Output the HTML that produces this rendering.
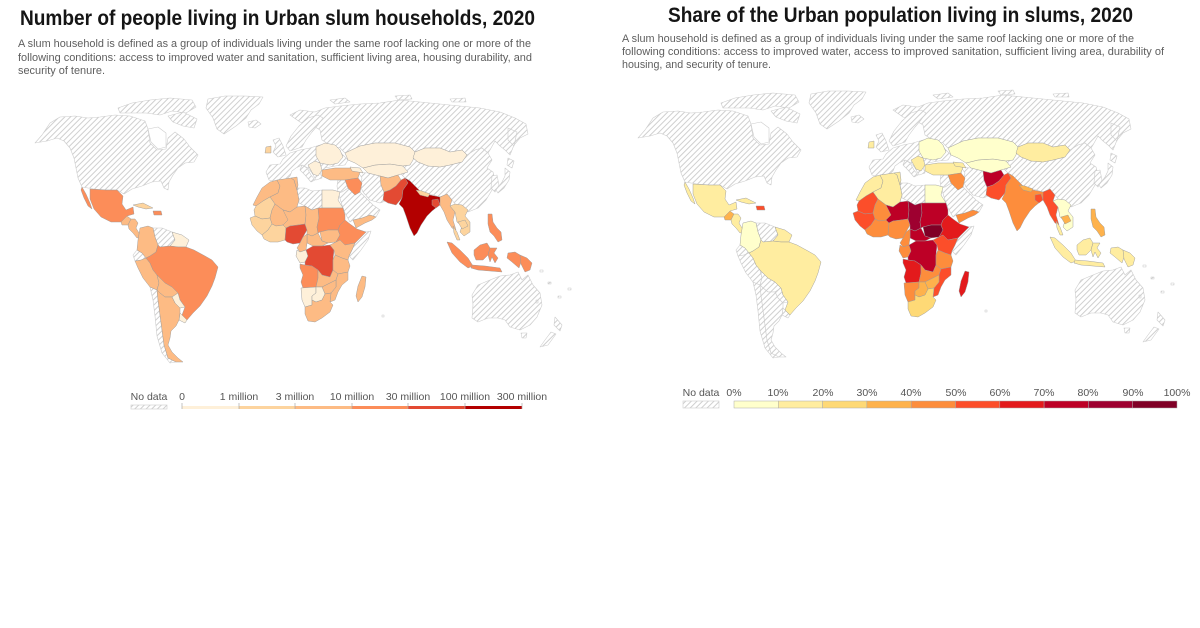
<!DOCTYPE html>
<html><head><meta charset="utf-8"><style>
html,body{margin:0;padding:0;background:#fff;}
svg{display:block;}
.h{fill:url(#hp);stroke:#cdcdcd;stroke-width:.6}
.w{fill:#fff;stroke:#cdcdcd;stroke-width:.6}
text{font-family:"Liberation Sans",sans-serif;}
</style></head><body>
<svg width="1200" height="628" viewBox="0 0 1200 628" xmlns="http://www.w3.org/2000/svg">
<defs>
<pattern id="hp" patternUnits="userSpaceOnUse" width="4" height="4" patternTransform="rotate(45)"><rect width="4" height="4" fill="#fff"/><line x1="0.5" y1="0" x2="0.5" y2="4" stroke="#cfcfcf" stroke-width="1"/></pattern>
<path id="na" d="M35,143 L42,135 L50,123 L60,117 L75,116 L88,118 L100,117 L115,115 L130,116 L145,121 L148,129 L150,143 L157,150 L166,149 L168,138 L175,132 L184,139 L190,147 L198,155 L194,162 L185,163 L178,168 L173,175 L169,182 L168,190 L164,188 L161,181 L152,182 L142,186 L132,189 L124,194 L117,190 L106,190 L94,189 L82,187 L78,178 L76,168 L74,158 L70,148 L64,141 L57,138 L47,141 Z"/>
<path id="hud" d="M148,129 L158,127 L166,133 L166,147 L158,149 L151,142 Z"/>
<path id="can1" d="M118,108 L132,103 L150,100 L170,98 L192,100 L196,107 L186,113 L172,111 L160,115 L146,113 L132,113 L120,113 Z"/>
<path id="can2" d="M168,116 L183,112 L197,119 L194,128 L183,126 L173,122 Z"/>
<path id="grl" d="M208,99 L225,96 L245,96 L263,97 L259,104 L251,110 L246,118 L236,126 L224,134 L217,129 L213,118 L206,108 Z"/>
<path id="isl" d="M248,122 L256,120 L261,124 L255,128 L249,127 Z"/>
<path id="mex" d="M90,189 L106,190 L117,190 L123,196 L122,204 L126,210 L133,207 L134,214 L127,216 L121,222 L111,222 L101,217 L94,209 L90,199 Z M82,187 L86,194 L90,203 L92,209 L88,206 L84,198 L81,190 Z"/>
<path id="gtm" d="M121,222 L127,216 L131,219 L128,225 L122,225 Z"/>
<path id="cam" d="M128,225 L131,219 L135,219 L138,223 L136,228 L139,233 L141,237 L137,238 L133,233 L129,229 Z"/>
<path id="cub" d="M133,205 L143,203 L153,208 L146,209 L138,207 Z"/>
<path id="hti" d="M153,211 L161,211 L162,215 L154,215 Z"/>
<path id="col" d="M140,228 L148,226 L153,228 L155,237 L158,245 L156,252 L150,256 L146,258 L142,253 L137,250 L138,240 Z"/>
<path id="ven" d="M153,228 L162,228 L172,232 L175,240 L170,246 L160,247 L158,245 L155,237 Z"/>
<path id="guy" d="M172,232 L182,235 L189,240 L186,247 L178,247 L170,246 L175,240 Z"/>
<path id="ecu" d="M137,250 L142,253 L146,258 L141,260 L135,261 L133,255 Z"/>
<path id="per" d="M135,261 L141,260 L146,258 L150,263 L153,270 L157,275 L159,283 L157,290 L150,287 L143,278 L138,268 Z"/>
<path id="bra" d="M146,258 L150,256 L156,252 L158,245 L160,247 L170,246 L178,247 L186,247 L194,250 L205,256 L212,260 L218,267 L215,278 L212,286 L207,296 L200,306 L193,313 L187,320 L182,315 L185,307 L180,300 L178,293 L172,287 L165,283 L160,278 L157,275 L153,270 L150,263 Z"/>
<path id="bol" d="M157,275 L160,278 L165,283 L172,287 L178,293 L172,297 L165,297 L160,293 L157,290 L159,283 Z"/>
<path id="pry" d="M172,297 L178,293 L180,300 L185,307 L180,308 L175,303 Z"/>
<path id="ury" d="M180,313 L182,315 L187,320 L185,323 L179,320 Z"/>
<path id="chl" d="M150,287 L157,290 L158,300 L160,315 L162,330 L164,345 L168,358 L176,362 L170,363 L162,353 L157,336 L155,316 L153,300 Z"/>
<path id="arg" d="M157,290 L160,293 L165,297 L172,297 L175,303 L180,308 L180,313 L179,320 L176,326 L171,331 L170,338 L168,345 L172,352 L178,358 L183,362 L176,362 L168,358 L164,345 L162,330 L160,315 L158,300 Z"/>
<path id="mar" d="M262,188 L270,182 L277,180 L280,186 L278,193 L270,197 L263,201 L256,206 L253,205 L257,197 Z"/>
<path id="dza" d="M277,180 L291,178 L294,180 L297,190 L299,200 L297,207 L290,212 L283,210 L275,204 L270,197 L278,193 L280,186 Z"/>
<path id="tun" d="M291,178 L297,177 L298,185 L297,190 L294,180 Z"/>
<path id="lby" d="M297,188 L305,188 L312,191 L322,190 L322,208 L318,208 L312,210 L305,206 L299,203 L299,200 L297,190 Z"/>
<path id="egy" d="M322,190 L333,190 L340,192 L338,200 L343,208 L333,208 L322,208 Z"/>
<path id="mrt" d="M256,206 L263,201 L270,197 L275,204 L272,210 L270,218 L262,219 L255,216 L254,210 Z"/>
<path id="mli" d="M270,218 L272,210 L275,204 L283,210 L290,212 L288,220 L283,225 L276,226 L272,224 Z"/>
<path id="wafr" d="M250,218 L255,216 L262,219 L270,218 L272,224 L268,230 L262,235 L257,231 L252,225 Z"/>
<path id="gha" d="M262,235 L268,230 L272,224 L276,226 L283,225 L286,228 L285,240 L278,242 L270,242 L264,239 Z"/>
<path id="ner" d="M283,210 L290,212 L297,207 L305,206 L306,215 L305,224 L298,225 L290,226 L286,228 L283,225 L288,220 Z"/>
<path id="nga" d="M286,228 L290,226 L298,225 L305,224 L307,230 L303,237 L300,243 L293,244 L287,242 L285,240 Z"/>
<path id="tcd" d="M305,206 L312,210 L318,208 L319,218 L317,227 L318,233 L312,236 L307,234 L307,230 L305,224 L306,215 Z"/>
<path id="sdn" d="M318,208 L333,208 L343,208 L345,215 L345,220 L340,225 L338,230 L328,230 L320,232 L318,233 L317,227 L319,218 Z"/>
<path id="ssd" d="M320,232 L328,230 L338,230 L340,235 L336,242 L328,243 L322,241 Z"/>
<path id="eth" d="M345,220 L350,224 L357,229 L366,232 L360,238 L355,243 L345,245 L340,240 L336,242 L340,235 L338,230 L340,225 Z"/>
<path id="som" d="M355,243 L360,238 L366,232 L371,231 L368,240 L361,250 L353,260 L349,256 L352,250 Z"/>
<path id="caf" d="M307,234 L312,236 L318,233 L322,241 L328,243 L322,246 L313,246 L307,243 Z"/>
<path id="cmr" d="M300,243 L303,237 L307,234 L307,243 L306,250 L300,252 L297,248 Z"/>
<path id="gab" d="M297,250 L300,252 L306,250 L308,256 L305,262 L300,263 L296,256 Z"/>
<path id="cod" d="M306,250 L313,246 L322,246 L330,245 L334,250 L333,260 L333,270 L330,277 L322,275 L318,270 L312,266 L305,265 L305,262 L308,256 Z"/>
<path id="ken" d="M330,245 L336,242 L340,240 L345,245 L355,243 L352,250 L349,256 L348,260 L342,258 L335,255 L334,250 Z"/>
<path id="tza" d="M335,255 L342,258 L348,260 L350,266 L348,272 L338,274 L333,270 L333,260 Z"/>
<path id="ago" d="M300,264 L305,265 L312,266 L318,270 L318,278 L316,287 L303,288 L301,282 L303,275 L300,268 Z"/>
<path id="zmb" d="M318,270 L322,275 L330,277 L333,270 L338,274 L336,280 L330,283 L322,287 L316,287 L318,278 Z"/>
<path id="moz" d="M338,274 L348,272 L348,280 L342,285 L338,292 L335,300 L330,302 L331,293 L336,287 L336,280 Z"/>
<path id="zwe" d="M322,287 L330,283 L336,280 L336,287 L331,293 L325,294 Z"/>
<path id="nam" d="M301,288 L316,287 L316,293 L312,296 L312,305 L305,307 L302,300 Z"/>
<path id="bwa" d="M312,296 L316,293 L316,287 L322,287 L325,294 L322,300 L316,302 L312,300 Z"/>
<path id="zaf" d="M305,307 L312,305 L312,300 L316,302 L322,300 L325,294 L331,293 L330,302 L333,305 L330,312 L322,318 L315,322 L308,321 L305,314 Z"/>
<path id="mdg" d="M362,276 L366,277 L365,287 L362,297 L358,302 L356,296 L358,286 Z"/>
<path id="tur" d="M322,170 L335,168 L350,168 L360,172 L358,178 L345,180 L330,180 L322,176 Z"/>
<path id="lev" d="M338,180 L345,180 L348,188 L342,192 L338,192 L337,186 Z"/>
<path id="irq" d="M345,180 L358,178 L362,183 L360,192 L355,195 L348,188 Z"/>
<path id="sau" d="M338,192 L342,192 L348,188 L355,195 L360,192 L368,200 L373,205 L380,210 L376,217 L370,215 L362,218 L353,220 L350,222 L345,213 L342,205 Z"/>
<path id="yem" d="M353,220 L362,218 L370,215 L376,217 L372,220 L365,223 L356,228 Z"/>
<path id="irn" d="M358,172 L368,173 L380,176 L381,185 L384,192 L388,200 L380,203 L370,200 L363,192 L360,185 L362,178 Z"/>
<path id="cau" d="M350,167 L360,168 L363,173 L358,172 L352,171 Z"/>
<path id="cas" d="M363,168 L375,165 L390,164 L403,166 L408,172 L398,175 L388,178 L380,176 L368,173 Z"/>
<path id="kaz" d="M345,153 L360,146 L375,143 L395,143 L410,147 L415,152 L413,160 L410,165 L403,166 L390,164 L375,165 L363,168 L355,163 L348,160 Z"/>
<path id="afg" d="M380,176 L388,178 L398,175 L401,180 L396,186 L390,190 L384,192 L381,185 Z"/>
<path id="pak" d="M384,192 L390,190 L396,186 L401,180 L405,178 L408,183 L403,190 L402,198 L396,205 L388,203 L383,200 Z"/>
<path id="ind" d="M405,178 L410,181 L415,186 L420,191 L430,195 L440,197 L446,195 L449,198 L444,203 L440,203 L437,207 L432,211 L427,216 L421,225 L417,233 L414,236 L410,228 L406,216 L403,208 L399,204 L402,198 L403,190 L408,183 Z"/>
<path id="npl" d="M416,190 L422,191 L430,194 L428,197 L420,195 Z"/>
<path id="bgd" d="M432,200 L438,199 L440,205 L436,208 L432,205 Z"/>
<path id="mmr" d="M440,197 L447,194 L452,200 L450,206 L455,212 L453,220 L456,230 L452,228 L447,220 L444,212 L440,205 Z"/>
<path id="tha" d="M450,206 L455,204 L462,205 L468,210 L465,216 L470,222 L470,232 L464,236 L460,232 L462,226 L457,222 L455,212 Z"/>
<path id="khm" d="M458,222 L465,220 L468,226 L462,229 Z"/>
<path id="mys" d="M453,226 L457,232 L460,240 L457,240 L454,233 Z"/>
<path id="phl" d="M488,214 L492,214 L493,222 L497,228 L501,232 L502,240 L498,242 L494,236 L490,232 L488,224 Z"/>
<path id="sum" d="M447,242 L452,243 L460,250 L468,258 L473,266 L468,268 L460,262 L452,253 Z"/>
<path id="jav" d="M472,265 L485,266 L500,268 L502,272 L490,271 L478,270 L471,268 Z"/>
<path id="bor" d="M474,250 L480,245 L487,243 L490,248 L488,255 L483,260 L476,260 L474,255 Z"/>
<path id="sul" d="M490,248 L497,248 L494,253 L498,258 L495,263 L492,257 L490,262 L488,255 Z"/>
<path id="pap" d="M508,253 L515,252 L520,255 L521,262 L519,268 L512,262 L507,258 Z"/>
<path id="png" d="M520,255 L527,258 L532,263 L530,270 L525,272 L521,264 Z"/>
<path id="mng" d="M415,152 L425,148 L440,148 L450,152 L462,150 L467,155 L462,162 L450,165 L440,167 L428,166 L418,162 L413,158 Z"/>
<path id="chn" d="M413,158 L418,162 L428,166 L440,167 L450,165 L462,162 L467,155 L475,150 L482,148 L488,153 L492,160 L487,168 L493,172 L495,180 L492,190 L486,200 L478,208 L468,212 L462,210 L455,204 L452,200 L447,194 L440,197 L430,194 L420,191 L415,186 L410,181 L405,178 L401,174 L403,166 L410,165 Z"/>
<path id="kor" d="M492,176 L497,175 L499,185 L495,192 L491,188 Z"/>
<path id="jpn" d="M505,168 L510,172 L509,180 L504,188 L498,193 L496,190 L502,182 L505,176 Z M508,158 L514,161 L512,168 L507,165 Z"/>
<path id="rus" d="M290,115 L300,110 L315,112 L325,108 L340,106 L360,104 L380,103 L400,100 L420,102 L440,104 L460,106 L480,108 L500,112 L515,118 L526,124 L528,134 L520,138 L514,145 L510,155 L505,150 L500,146 L495,141 L490,150 L488,153 L482,148 L475,150 L467,155 L462,150 L450,152 L440,148 L425,148 L415,152 L410,147 L395,143 L375,143 L360,146 L345,153 L340,148 L330,145 L322,140 L320,130 L312,125 L300,122 Z"/>
<path id="rusi" d="M330,100 L345,98 L350,102 L335,104 Z M395,96 L410,95 L412,99 L398,100 Z M450,99 L465,98 L466,102 L452,102 Z"/>
<path id="kam" d="M508,128 L517,132 L514,146 L508,140 Z"/>
<path id="scn" d="M286,146 L291,136 L299,126 L308,118 L318,115 L323,118 L318,125 L312,132 L306,140 L302,147 L296,149 L290,151 Z"/>
<path id="gbr" d="M273,140 L279,138 L283,146 L286,155 L278,157 L273,152 L276,146 Z"/>
<path id="irl" d="M266,147 L271,146 L271,153 L265,153 Z"/>
<path id="eur" d="M283,159 L290,153 L300,150 L310,148 L320,145 L330,146 L338,150 L343,155 L348,160 L345,165 L335,166 L325,168 L320,172 L322,178 L316,180 L312,173 L308,168 L302,165 L296,168 L292,171 L290,176 L285,181 L277,182 L269,180 L266,172 L270,165 L280,164 Z"/>
<path id="ita" d="M302,165 L307,168 L311,175 L315,180 L311,182 L305,175 L300,170 Z"/>
<path id="ukr" d="M316,147 L325,143 L335,145 L340,150 L343,157 L338,163 L330,165 L320,163 L316,156 Z"/>
<path id="bal" d="M308,165 L315,161 L320,163 L322,170 L318,176 L313,174 Z"/>
<path id="aus" d="M472,295 L478,285 L490,280 L500,276 L510,275 L518,272 L522,280 L528,275 L533,285 L540,293 L542,305 L537,317 L530,325 L520,330 L510,327 L505,320 L498,318 L488,318 L478,322 L472,318 L473,305 Z"/>
<path id="tas" d="M521,333 L527,333 L526,338 L522,338 Z"/>
<path id="nz" d="M555,317 L562,325 L560,331 L554,325 Z M551,332 L556,334 L548,345 L540,347 L545,340 Z"/>
<path id="isles" d="M540,270 L543,270 L543,272 L540,272 Z M548,282 L551,282 L551,284 L548,284 Z M558,296 L561,296 L561,298 L558,298 Z M568,288 L571,288 L571,290 L568,290 Z M536,300 L538,300 L538,303 L536,303 Z M382,315 L384,315 L384,317 L382,317 Z"/>
</defs>

<!-- Titles -->
<text x="20" y="25" font-size="21" font-weight="bold" fill="#151515" textLength="515" lengthAdjust="spacingAndGlyphs">Number of people living in Urban slum households, 2020</text>
<g font-size="11" fill="#5e5e5e">
<text x="18" y="47" textLength="513" lengthAdjust="spacingAndGlyphs">A slum household is defined as a group of individuals living under the same roof lacking one or more of the</text>
<text x="18" y="61" textLength="514" lengthAdjust="spacingAndGlyphs">following conditions: access to improved water and sanitation, sufficient living area, housing durability, and</text>
<text x="18" y="74" textLength="87" lengthAdjust="spacingAndGlyphs">security of tenure.</text>
</g>
<text x="668" y="22" font-size="21" font-weight="bold" fill="#151515" textLength="465" lengthAdjust="spacingAndGlyphs">Share of the Urban population living in slums, 2020</text>
<g font-size="11" fill="#5e5e5e">
<text x="622" y="42" textLength="512" lengthAdjust="spacingAndGlyphs">A slum household is defined as a group of individuals living under the same roof lacking one or more of the</text>
<text x="622" y="55" textLength="542" lengthAdjust="spacingAndGlyphs">following conditions: access to improved water, access to improved sanitation, sufficient living area, durability of</text>
<text x="622" y="68" textLength="149" lengthAdjust="spacingAndGlyphs">housing, and security of tenure.</text>
</g>

<!-- LEFT MAP -->
<g stroke="#9a9a9a" stroke-width="0.45" stroke-linejoin="round">
<use href="#na" class="h"/><use href="#hud" class="w"/><use href="#can1" class="h"/><use href="#can2" class="h"/><use href="#grl" class="h"/><use href="#isl" class="h"/>
<use href="#rus" class="h"/><use href="#rusi" class="h"/><use href="#kam" class="h"/><use href="#scn" class="h"/><use href="#eur" class="h"/><use href="#gbr" class="h"/><use href="#ita" class="h"/>
<use href="#chn" class="h"/><use href="#kor" class="h"/><use href="#jpn" class="h"/><use href="#irn" class="h"/><use href="#sau" class="h"/><use href="#lev" class="h"/><use href="#lby" class="h"/><use href="#som" class="h"/>
<use href="#ven" class="h"/><use href="#ecu" class="h"/><use href="#chl" class="h"/><use href="#aus" class="h"/><use href="#tas" class="h"/><use href="#nz" class="h"/><use href="#isles" class="h"/>
<use href="#mex" fill="#fc8d59"/><use href="#gtm" fill="#fdbb84"/><use href="#cam" fill="#fdbb84"/><use href="#cub" fill="#fdd49e"/><use href="#hti" fill="#fc8d59"/>
<use href="#col" fill="#fdbb84"/><use href="#guy" fill="#fef0d9"/><use href="#per" fill="#fdbb84"/><use href="#bra" fill="#fc8d59"/><use href="#bol" fill="#fdbb84"/><use href="#pry" fill="#fef0d9"/><use href="#ury" fill="#fef0d9"/><use href="#arg" fill="#fdbb84"/>
<use href="#mar" fill="#fdbb84"/><use href="#dza" fill="#fdbb84"/><use href="#tun" fill="#fdbb84"/><use href="#egy" fill="#fef0d9"/><use href="#mrt" fill="#fdd49e"/><use href="#mli" fill="#fdbb84"/><use href="#wafr" fill="#fdd49e"/><use href="#gha" fill="#fdd49e"/>
<use href="#ner" fill="#fdbb84"/><use href="#nga" fill="#e34a33"/><use href="#tcd" fill="#fdbb84"/><use href="#sdn" fill="#fc8d59"/><use href="#ssd" fill="#fdbb84"/><use href="#eth" fill="#fc8d59"/><use href="#caf" fill="#fdbb84"/><use href="#cmr" fill="#fdbb84"/>
<use href="#gab" fill="#fef0d9"/><use href="#cod" fill="#e34a33"/><use href="#ken" fill="#fdbb84"/><use href="#tza" fill="#fdbb84"/><use href="#ago" fill="#fc8d59"/><use href="#zmb" fill="#fdbb84"/><use href="#moz" fill="#fdbb84"/><use href="#zwe" fill="#fdbb84"/>
<use href="#nam" fill="#fef0d9"/><use href="#bwa" fill="#fef0d9"/><use href="#zaf" fill="#fdbb84"/><use href="#mdg" fill="#fdbb84"/>
<use href="#tur" fill="#fdbb84"/><use href="#irq" fill="#fc8d59"/><use href="#yem" fill="#fdbb84"/><use href="#cau" fill="#fef0d9"/><use href="#cas" fill="#fef0d9"/><use href="#kaz" fill="#fef0d9"/><use href="#mng" fill="#fef0d9"/>
<use href="#afg" fill="#fdbb84"/><use href="#pak" fill="#e34a33"/><use href="#ind" fill="#b30000"/><use href="#npl" fill="#fdd49e"/><use href="#bgd" fill="#e34a33"/><use href="#mmr" fill="#fdbb84"/><use href="#tha" fill="#fdd49e"/><use href="#khm" fill="#fdd49e"/><use href="#mys" fill="#fdd49e"/>
<use href="#phl" fill="#fc8d59"/><use href="#sum" fill="#fc8d59"/><use href="#jav" fill="#fc8d59"/><use href="#bor" fill="#fc8d59"/><use href="#sul" fill="#fc8d59"/><use href="#pap" fill="#fc8d59"/><use href="#png" fill="#fc8d59"/>
<use href="#irl" fill="#fdd49e"/><use href="#ukr" fill="#fef0d9"/><use href="#bal" fill="#fef0d9"/>
</g>

<!-- RIGHT MAP -->
<g transform="translate(603,-5)" stroke="#9a9a9a" stroke-width="0.45" stroke-linejoin="round">
<use href="#na" class="h"/><use href="#hud" class="w"/><use href="#can1" class="h"/><use href="#can2" class="h"/><use href="#grl" class="h"/><use href="#isl" class="h"/>
<use href="#rus" class="h"/><use href="#rusi" class="h"/><use href="#kam" class="h"/><use href="#scn" class="h"/><use href="#eur" class="h"/><use href="#gbr" class="h"/><use href="#ita" class="h"/>
<use href="#chn" class="h"/><use href="#kor" class="h"/><use href="#jpn" class="h"/><use href="#irn" class="h"/><use href="#sau" class="h"/><use href="#lev" class="h"/><use href="#lby" class="h"/><use href="#som" class="h"/>
<use href="#ven" class="h"/><use href="#ecu" class="h"/><use href="#chl" class="h"/><use href="#per" class="h"/><use href="#bol" class="h"/><use href="#pry" class="h"/><use href="#ury" class="h"/><use href="#arg" class="h"/>
<use href="#aus" class="h"/><use href="#tas" class="h"/><use href="#nz" class="h"/><use href="#isles" class="h"/>
<use href="#mex" fill="#ffeda0"/><use href="#gtm" fill="#feb24c"/><use href="#cam" fill="#ffeda0"/><use href="#cub" fill="#ffeda0"/><use href="#hti" fill="#fc4e2a"/>
<use href="#col" fill="#ffffcc"/><use href="#guy" fill="#ffeda0"/><use href="#bra" fill="#ffeda0"/>
<use href="#mar" fill="#ffeda0"/><use href="#dza" fill="#ffeda0"/><use href="#tun" fill="#ffeda0"/><use href="#egy" fill="#ffffcc"/><use href="#mrt" fill="#fc4e2a"/><use href="#mli" fill="#fd8d3c"/><use href="#wafr" fill="#fc4e2a"/><use href="#gha" fill="#fd8d3c"/>
<use href="#ner" fill="#bd0026"/><use href="#nga" fill="#fd8d3c"/><use href="#tcd" fill="#9e0030"/><use href="#sdn" fill="#bd0026"/><use href="#ssd" fill="#800026"/><use href="#eth" fill="#e31a1c"/><use href="#caf" fill="#bd0026"/><use href="#cmr" fill="#fd8d3c"/>
<use href="#gab" fill="#fd8d3c"/><use href="#cod" fill="#bd0026"/><use href="#ken" fill="#fc4e2a"/><use href="#tza" fill="#fd8d3c"/><use href="#ago" fill="#e31a1c"/><use href="#zmb" fill="#fd8d3c"/><use href="#moz" fill="#fc4e2a"/><use href="#zwe" fill="#feb24c"/>
<use href="#nam" fill="#fd8d3c"/><use href="#bwa" fill="#feb24c"/><use href="#zaf" fill="#fed976"/><use href="#mdg" fill="#e31a1c"/>
<use href="#tur" fill="#ffeda0"/><use href="#irq" fill="#fd8d3c"/><use href="#yem" fill="#fd8d3c"/><use href="#cau" fill="#ffeda0"/><use href="#cas" fill="#ffffcc"/><use href="#kaz" fill="#ffffcc"/><use href="#mng" fill="#ffeda0"/>
<use href="#afg" fill="#bd0026"/><use href="#pak" fill="#fc4e2a"/><use href="#ind" fill="#fd8d3c"/><use href="#npl" fill="#feb24c"/><use href="#bgd" fill="#fc4e2a"/><use href="#mmr" fill="#fc4e2a"/><use href="#tha" fill="#ffffcc"/><use href="#khm" fill="#feb24c"/><use href="#mys" fill="#ffeda0"/>
<use href="#phl" fill="#feb24c"/><use href="#sum" fill="#ffeda0"/><use href="#jav" fill="#ffeda0"/><use href="#bor" fill="#ffeda0"/><use href="#sul" fill="#ffeda0"/><use href="#pap" fill="#ffeda0"/><use href="#png" fill="#ffeda0"/>
<use href="#irl" fill="#ffeda0"/><use href="#ukr" fill="#ffffcc"/><use href="#bal" fill="#ffeda0"/>
</g>

<!-- LEFT LEGEND -->
<g font-size="10.5" fill="#555" text-anchor="middle">
<text x="149" y="400">No data</text>
<text x="182" y="400">0</text>
<text x="239" y="400">1 million</text>
<text x="295" y="400">3 million</text>
<text x="352" y="400">10 million</text>
<text x="408" y="400">30 million</text>
<text x="465" y="400">100 million</text>
<text x="522" y="400">300 million</text>
</g>
<rect x="131" y="405" width="36" height="4" fill="url(#hp)" stroke="#cdcdcd" stroke-width="0.6"/>
<rect x="182" y="406" width="57" height="3" fill="#fef0d9"/>
<rect x="239" y="406" width="56" height="3" fill="#fdd49e"/>
<rect x="295" y="406" width="57" height="3" fill="#fdbb84"/>
<rect x="352" y="406" width="56" height="3" fill="#fc8d59"/>
<rect x="408" y="406" width="57" height="3" fill="#e34a33"/>
<rect x="465" y="406" width="57" height="3" fill="#b30000"/>
<g stroke="#aaa" stroke-width="0.7">
<line x1="182" y1="403" x2="182" y2="409"/><line x1="239" y1="403" x2="239" y2="409"/><line x1="295" y1="403" x2="295" y2="409"/><line x1="352" y1="403" x2="352" y2="409"/><line x1="408" y1="403" x2="408" y2="409"/><line x1="465" y1="403" x2="465" y2="409"/><line x1="522" y1="403" x2="522" y2="409"/>
</g>

<!-- RIGHT LEGEND -->
<g font-size="10.5" fill="#555" text-anchor="middle">
<text x="701" y="396">No data</text>
<text x="734" y="396">0%</text>
<text x="778" y="396">10%</text>
<text x="823" y="396">20%</text>
<text x="867" y="396">30%</text>
<text x="911" y="396">40%</text>
<text x="956" y="396">50%</text>
<text x="1000" y="396">60%</text>
<text x="1044" y="396">70%</text>
<text x="1088" y="396">80%</text>
<text x="1133" y="396">90%</text>
<text x="1177" y="396">100%</text>
</g>
<rect x="683" y="401" width="36" height="7" fill="url(#hp)" stroke="#cdcdcd" stroke-width="0.6"/>
<g stroke="#aaa" stroke-width="0.5">
<rect x="734" y="401" width="44.3" height="7" fill="#ffffcc"/>
<rect x="778.3" y="401" width="44.3" height="7" fill="#ffeda0"/>
<rect x="822.6" y="401" width="44.3" height="7" fill="#fed976"/>
<rect x="866.9" y="401" width="44.3" height="7" fill="#feb24c"/>
<rect x="911.2" y="401" width="44.3" height="7" fill="#fd8d3c"/>
<rect x="955.5" y="401" width="44.3" height="7" fill="#fc4e2a"/>
<rect x="999.8" y="401" width="44.3" height="7" fill="#e31a1c"/>
<rect x="1044.1" y="401" width="44.3" height="7" fill="#bd0026"/>
<rect x="1088.4" y="401" width="44.3" height="7" fill="#9e0030"/>
<rect x="1132.7" y="401" width="44.3" height="7" fill="#800026"/>
</g>
</svg>
</body></html>
